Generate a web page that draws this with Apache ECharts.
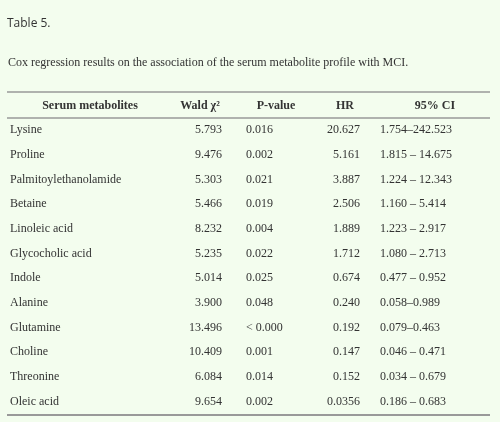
<!DOCTYPE html>
<html><head><meta charset="utf-8">
<script src="https://cdn.jsdelivr.net/npm/echarts@6/dist/echarts.min.js"></script>
<style>html,body{margin:0;padding:0;background:#f3fdee}#c{width:500px;height:422px}</style>
</head><body><div id="c"></div>
<script>
const metabolites = ["Lysine","Proline","Palmitoylethanolamide","Betaine","Linoleic acid","Glycocholic acid","Indole","Alanine","Glutamine","Choline","Threonine","Oleic acid"];
const wald = ["5.793","9.476","5.303","5.466","8.232","5.235","5.014","3.900","13.496","10.409","6.084","9.654"];
const pValues = ["0.016","0.002","0.021","0.019","0.004","0.022","0.025","0.048","< 0.000","0.001","0.014","0.002"];
const hr = ["20.627","5.161","3.887","2.506","1.889","1.712","0.674","0.240","0.192","0.147","0.152","0.0356"];
const ci = ["1.754–242.523","1.815 – 14.675","1.224 – 12.343","1.160 – 5.414","1.223 – 2.917","1.080 – 2.713","0.477 – 0.952","0.058–0.989","0.079–0.463","0.046 – 0.471","0.034 – 0.679","0.186 – 0.683"];
const headers = ["Serum metabolites","Wald χ²","P-value","HR","95% CI"];

const chart = echarts.init(document.getElementById('c'));
const serif = '"Liberation Serif", "DejaVu Serif", serif';
const col = '#333';
const els = [];
const t = (x,y,text,align,bold,font,size)=>els.push({type:'text',x:x,y:y,style:{text:text,x:0,y:0,align:align||'left',verticalAlign:'middle',fill:col,font:(bold?'bold ':'')+(size||12)+'px '+(font||serif)}});
const line = (y,w)=>els.push({type:'line',shape:{x1:7,y1:y,x2:490,y2:y},style:{stroke:'#999',lineWidth:w||1.5}});
t(7,24,"Table 5.",'left',false,'"Open Sans", sans-serif',12);
t(8,63,"Cox regression results on the association of the serum metabolite profile with MCI.",'left',false,serif,12);
line(92,1.5); line(118,1.5); line(415,2);
const hx=[90,200,276,345,435];
headers.forEach((h,i)=>t(hx[i],106,h,'center',true));
metabolites.forEach((m,i)=>{
  const y=130+i*24.7;
  t(10,y,m,'left');
  t(222,y,wald[i],'right');
  t(246,y,pValues[i],'left');
  t(360,y,hr[i],'right');
  t(380,y,ci[i],'left');
});
chart.setOption({backgroundColor:'#f3fdee',graphic:{elements:els}});
</script></body></html>
